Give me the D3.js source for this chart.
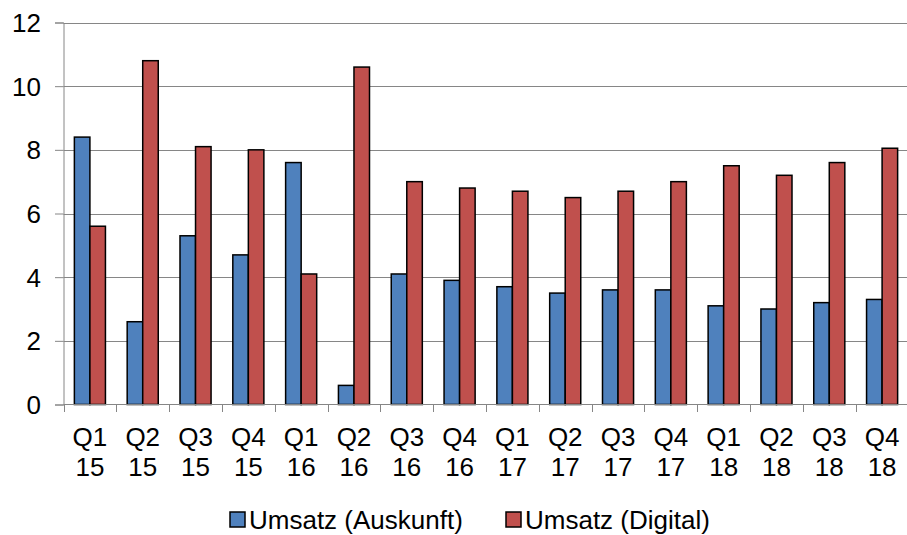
<!DOCTYPE html>
<html>
<head>
<meta charset="utf-8">
<script src="https://cdn.jsdelivr.net/npm/d3@7/dist/d3.min.js"></script>
<style>
  body { margin: 0; background: #fff; }
  text { font-family: "Liberation Sans", Arial, sans-serif; fill: #000; }
</style>
</head>
<body>
<div id="chart"></div>
<script>
// quarters and years (two-line tick labels)
const quarters = ['Q1','Q2','Q3','Q4','Q1','Q2','Q3','Q4','Q1','Q2','Q3','Q4','Q1','Q2','Q3','Q4'];
const years = ['15','15','15','15','16','16','16','16','17','17','17','17','18','18','18','18'];
const auskunft = [8.4, 2.6, 5.3, 4.7, 7.6, 0.6, 4.1, 3.9, 3.7, 3.5, 3.6, 3.6, 3.1, 3.0, 3.2, 3.3];
const digital = [5.6, 10.8, 8.1, 8.0, 4.1, 10.6, 7.0, 6.8, 6.7, 6.5, 6.7, 7.0, 7.5, 7.2, 7.6, 8.05];
const seriesNames = ['Umsatz (Auskunft)', 'Umsatz (Digital)'];
const yTicks = [0, 2, 4, 6, 8, 10, 12];

const colors = ['#4F81BD', '#C0504D'];
const fontSize = 26;

const svgWidth = 907;
const svgHeight = 535;

const svg = d3.select('#chart')
  .append('svg')
  .attr('width', svgWidth)
  .attr('height', svgHeight);

const idx = d3.range(quarters.length);

// plot area
const x = d3.scaleBand()
  .domain(idx)
  .range([63.5, 908.5])
  .paddingInner(0)
  .paddingOuter(0);

const y = d3.scaleLinear()
  .domain([0, 12])
  .range([404.5, 22.5]);

// inner scale for the two bars in each group
const bw = x.bandwidth();
const barW = bw / 3.4;
const xSub = d3.scaleBand()
  .domain([0, 1])
  .range([barW * 0.7, barW * 0.7 + barW * 2]);

// gridlines
svg.append('g')
  .selectAll('line')
  .data(yTicks.filter(d => d > 0))
  .enter()
  .append('line')
  .attr('x1', 63.5)
  .attr('x2', svgWidth)
  .attr('y1', d => Math.round(y(d)) + 0.5)
  .attr('y2', d => Math.round(y(d)) + 0.5)
  .attr('stroke', '#868686')
  .attr('stroke-width', 1);

// y axis
const yAxis = d3.axisLeft(y)
  .tickValues(yTicks)
  .tickSize(8.5)
  .tickPadding(14);

const yG = svg.append('g')
  .attr('transform', 'translate(63.5,0)')
  .call(yAxis);
yG.select('.domain').attr('stroke', '#868686');
yG.selectAll('.tick line').attr('stroke', '#868686');
yG.selectAll('.tick text')
  .attr('font-size', fontSize)
  .attr('font-family', '"Liberation Sans", Arial, sans-serif')
  .attr('fill', '#000')
  .attr('dy', '0.34em');

// bars
const groups = [auskunft, digital];
groups.forEach((vals, s) => {
  svg.append('g')
    .selectAll('rect')
    .data(vals)
    .enter()
    .append('rect')
    .attr('x', (d, i) => x(i) + xSub(s))
    .attr('y', d => y(d))
    .attr('width', xSub.bandwidth())
    .attr('height', d => y(0) - y(d))
    .attr('fill', colors[s])
    .attr('stroke', '#000')
    .attr('stroke-width', 1.5);
});

// x axis
const xAxisLine = svg.append('g');
xAxisLine.append('line')
  .attr('x1', 63.5)
  .attr('x2', svgWidth)
  .attr('y1', 404.5)
  .attr('y2', 404.5)
  .attr('stroke', '#868686');
xAxisLine.selectAll('line.tk')
  .data(d3.range(quarters.length + 1))
  .enter()
  .append('line')
  .attr('class', 'tk')
  .attr('x1', d => Math.round(63.5 + d * bw) + 0.5)
  .attr('x2', d => Math.round(63.5 + d * bw) + 0.5)
  .attr('y1', 404.5)
  .attr('y2', 412)
  .attr('stroke', '#868686');

// two-line category labels
const lab = svg.append('g')
  .selectAll('text')
  .data(idx)
  .enter()
  .append('text')
  .attr('text-anchor', 'middle')
  .attr('font-size', fontSize)
  .attr('x', d => x(d) + bw / 2);
lab.append('tspan')
  .attr('x', d => x(d) + bw / 2)
  .attr('y', 446)
  .text(d => quarters[d]);
lab.append('tspan')
  .attr('x', d => x(d) + bw / 2)
  .attr('y', 476)
  .text(d => years[d]);

// legend
const legendX = [230, 506];
const legend = svg.append('g')
  .selectAll('g')
  .data(seriesNames)
  .enter()
  .append('g')
  .attr('transform', (d, i) => `translate(${legendX[i]}, 512)`);
legend.append('rect')
  .attr('width', 15)
  .attr('height', 15)
  .attr('fill', (d, i) => colors[i])
  .attr('stroke', '#000')
  .attr('stroke-width', 1.5);
legend.append('text')
  .attr('x', 19)
  .attr('y', 17)
  .attr('font-size', fontSize)
  .text(d => d);
</script>
</body>
</html>
